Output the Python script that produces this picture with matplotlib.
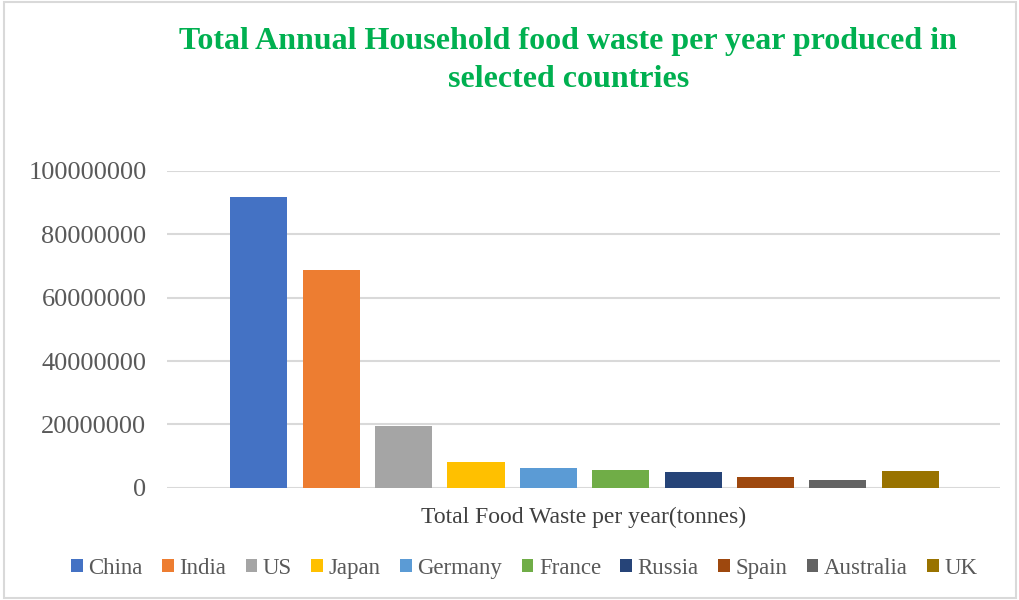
import matplotlib
matplotlib.use("Agg")
import matplotlib.pyplot as plt
from matplotlib.patches import Rectangle

countries = ['China', 'India', 'US', 'Japan', 'Germany', 'France',
             'Russia', 'Spain', 'Australia', 'UK']
waste = [91646213, 68760163, 19359951, 8159891, 6263775, 5522358,
         4869180, 3559956, 2563110, 5199825]
colors = ['#4472C4', '#ED7D31', '#A5A5A5', '#FFC000', '#5B9BD5',
          '#70AD47', '#264478', '#9E480E', '#636363', '#997300']
yticks = [0, 20000000, 40000000, 60000000, 80000000, 100000000]

plt.rcParams['font.family'] = ['Liberation Serif', 'DejaVu Serif']

fig = plt.figure(figsize=(10.2, 6), dpi=100)
ax = fig.add_axes([0.164, 0.187, 0.816, 0.528])

for i, (c, v) in enumerate(zip(countries, waste)):
    ax.bar(i, v, width=0.79, color=colors[i], label=c, zorder=3)

ax.set_xlim(-1.265, 10.235)
ax.set_ylim(0, 100000000)
ax.set_yticks(yticks)
ax.set_yticklabels([str(t) for t in yticks], fontsize=19, color='#595959')
ax.set_xticks([])
ax.tick_params(axis='y', length=0, pad=15)
ax.grid(axis='y', color='#D9D9D9', linewidth=1.5, zorder=0)
for s in ax.spines.values():
    s.set_visible(False)

ax.set_xlabel('Total Food Waste per year(tonnes)', fontsize=17, color='#404040', labelpad=14)

fig.text(0.557, 0.899, 'Total Annual Household food waste per year produced in\nselected countries',
         ha='center', va='center', fontsize=23, fontweight='bold', color='#00B050',
         linespacing=1.4)

fig.legend(loc='center', bbox_to_anchor=(0.514, 0.053), ncol=10, frameon=False,
           fontsize=16.5, labelcolor='#595959', handlelength=0.5, handleheight=0.5,
           handletextpad=0.25, columnspacing=0.85)

fig.patches.append(Rectangle((0.004, 0.004), 0.992, 0.992, transform=fig.transFigure,
                             fill=False, edgecolor='#D9D9D9', linewidth=1.5))

fig.savefig('out.png', dpi=100)
